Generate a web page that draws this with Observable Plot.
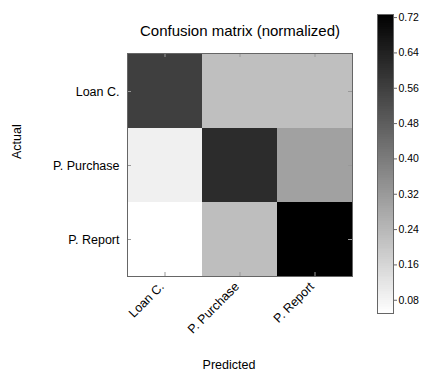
<!DOCTYPE html>
<html>
<head>
<meta charset="utf-8">
<script src="https://cdn.jsdelivr.net/npm/d3@7"></script>
<script src="https://cdn.jsdelivr.net/npm/@observablehq/plot@0.6"></script>
<style>
  body { margin: 0; background: #fff; }
  #chart { position: relative; width: 422px; height: 374px; font-family: "Liberation Sans", Arial, sans-serif; }
  #chart svg { position: absolute; top: 0; }
</style>
</head>
<body>
<div id="chart"></div>
<script>
// Classes (rows = actual, columns = predicted)
const classes = ["Loan C.", "P. Purchase", "P. Report"];

// Row-normalized confusion matrix, one array per actual class
const rowLoanC = [0.56, 0.22, 0.22];
const rowPPurchase = [0.09, 0.61, 0.30];
const rowPReport = [0.05, 0.223, 0.727];

// Colorbar tick labels
const colorbarTicks = [0.08, 0.16, 0.24, 0.32, 0.40, 0.48, 0.56, 0.64, 0.72];

const rows = [rowLoanC, rowPPurchase, rowPReport];
const cells = rows.flatMap((r, i) => r.map((v, j) => ({actual: classes[i], predicted: classes[j], value: v})));
const vmin = d3.min(cells, d => d.value);
const vmax = d3.max(cells, d => d.value);

const font = "'Liberation Sans', Arial, sans-serif";
const colorScale = {type: "linear", domain: [vmin, vmax], range: ["#ffffff", "#000000"], interpolate: "rgb"};

const heatmap = Plot.plot({
  width: 360,
  height: 374,
  marginLeft: 127,
  marginRight: 8,
  marginTop: 53,
  marginBottom: 98,
  style: {fontFamily: font, fontSize: "12.5px", color: "#000", background: "transparent"},
  x: {domain: classes, padding: 0, label: null},
  y: {domain: classes, padding: 0, label: null},
  color: colorScale,
  marks: [
    Plot.cell(cells, {x: "predicted", y: "actual", fill: "value"}),
    // small inward ticks on all four sides
    Plot.tickX(classes, {x: d => d, stroke: "#999", insetTop: 219}),
    Plot.tickX(classes, {x: d => d, stroke: "#999", insetBottom: 219}),
    Plot.tickY(classes, {y: d => d, stroke: "#999", insetRight: 221}),
    Plot.tickY(classes, {y: d => d, stroke: "#999", insetLeft: 221}),
    Plot.frame({stroke: "#666"}),
    Plot.axisY({anchor: "left", tickSize: 0, tickPadding: 8, fontSize: 12.5, label: null}),
    Plot.axisX({anchor: "bottom", tickSize: 0, tickPadding: 8, dx: -3, tickRotate: -45, textAnchor: "end", fontSize: 12.5, label: null}),
    Plot.text(["Confusion matrix (normalized)"], {frameAnchor: "top", dy: -28, fontSize: 15, fill: "#000"}),
    Plot.text(["Actual"], {frameAnchor: "left", dx: -111, dy: -6, rotate: -90, fontSize: 12.5, fill: "#000"}),
    Plot.text(["Predicted"], {frameAnchor: "bottom", dx: -11, dy: 92, fontSize: 12.5, fill: "#000"})
  ]
});
heatmap.style.left = "0px";

// Colorbar: a stack of thin rects sampling the color scale's domain
const nSteps = 160;
const ramp = d3.range(nSteps).map(i => {
  const lo = vmin + (vmax - vmin) * i / nSteps;
  const hi = vmin + (vmax - vmin) * (i + 1) / nSteps;
  return {lo, hi, mid: (lo + hi) / 2};
});

const colorbar = Plot.plot({
  width: 45,
  height: 374,
  marginLeft: 0,
  marginRight: 29,
  marginTop: 14,
  marginBottom: 61,
  style: {fontFamily: font, fontSize: "10.5px", color: "#000", background: "transparent"},
  x: {domain: [0, 1], axis: null},
  y: {domain: [vmin, vmax], label: null},
  color: colorScale,
  marks: [
    Plot.rect(ramp, {x1: 0, x2: 1, y1: "lo", y2: "hi", fill: "mid", shapeRendering: "crispEdges"}),
    Plot.frame({stroke: "#666"}),
    Plot.axisY({anchor: "right", ticks: colorbarTicks, tickFormat: d3.format(".2f"), tickSize: 3, tickPadding: 2, stroke: "#666", fontSize: 10.5, label: null})
  ]
});
colorbar.style.left = "377px";

const root = document.getElementById("chart");
root.append(heatmap, colorbar);
</script>
</body>
</html>
